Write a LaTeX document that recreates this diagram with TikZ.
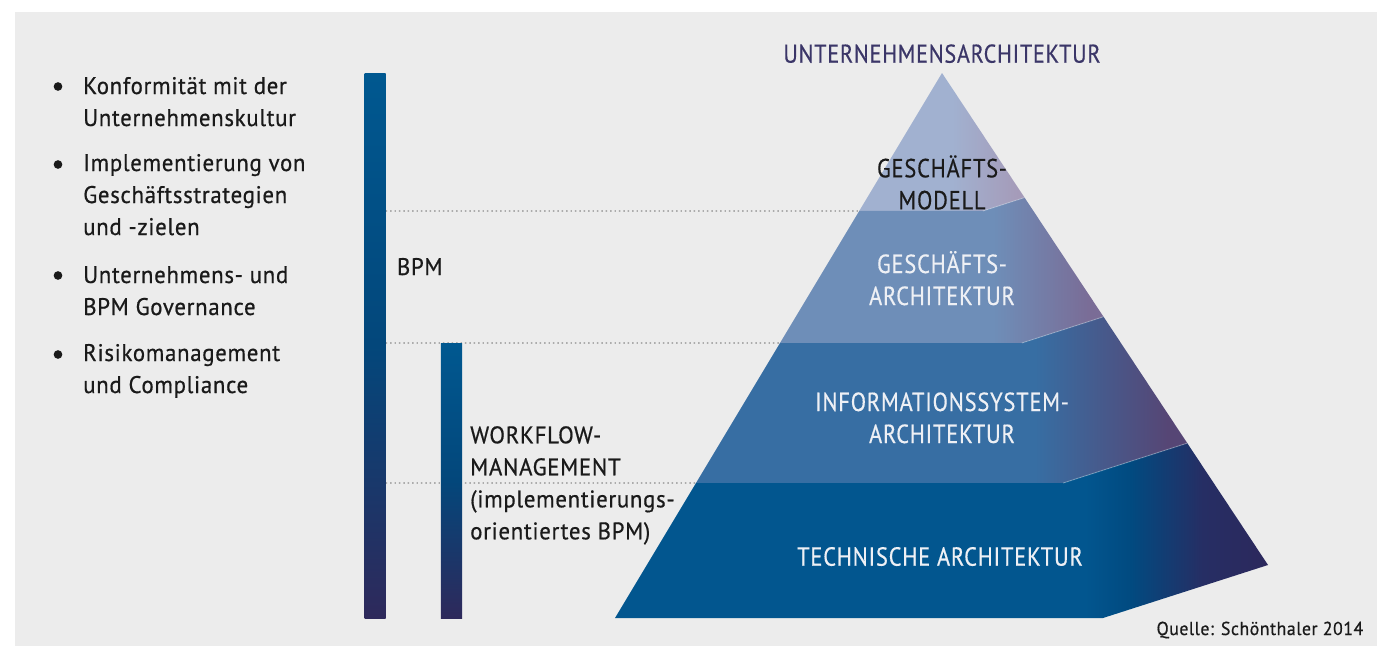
\documentclass[tikz,border=0pt]{standalone}
\usepackage{fontspec}
\setmainfont{PT Sans}[FakeStretch=0.95,LetterSpace=3,FakeBold=0.6]
\newfontfamily\capsfont{PT Sans}[FakeStretch=0.86,LetterSpace=3,FakeBold=0.4]
\usetikzlibrary{calc}

\definecolor{panel}{HTML}{ECECEC}
\definecolor{ink}{HTML}{1A1A1A}
\definecolor{titleink}{HTML}{3B3668}
\definecolor{paleink}{HTML}{EEF0F5}
\definecolor{guide}{HTML}{8A8A8A}
\definecolor{barTop}{HTML}{005890}
\definecolor{barMid}{HTML}{03477B}
\definecolor{barBot}{HTML}{2E295B}
\definecolor{lvlAf}{HTML}{A1B1D0}
\definecolor{lvlAr}{HTML}{A59BB9}
\definecolor{lvlBf}{HTML}{6E8EB8}
\definecolor{lvlBr}{HTML}{7A6C96}
\definecolor{lvlCf}{HTML}{376EA3}
\definecolor{lvlCr}{HTML}{564675}
\definecolor{lvlDf}{HTML}{02568F}
\definecolor{lvlDm}{HTML}{014A80}
\definecolor{lvlDn}{HTML}{262E64}
\definecolor{lvlDr}{HTML}{2C285C}

% horizontal shadings for the four levels: front colour, then a soft
% turn towards the shaded right flank (path box spans 25bp..75bp)
\pgfdeclarehorizontalshading{levelA}{100bp}{color(0bp)=(lvlAf); color(53bp)=(lvlAf); color(73bp)=(lvlAr); color(100bp)=(lvlAr)}
\pgfdeclarehorizontalshading{levelB}{100bp}{color(0bp)=(lvlBf); color(58bp)=(lvlBf); color(73bp)=(lvlBr); color(100bp)=(lvlBr)}
\pgfdeclarehorizontalshading{levelC}{100bp}{color(0bp)=(lvlCf); color(59.5bp)=(lvlCf); color(73bp)=(lvlCr); color(100bp)=(lvlCr)}
\pgfdeclarehorizontalshading{levelD}{100bp}{color(0bp)=(lvlDf); color(61bp)=(lvlDf); color(64.5bp)=(lvlDm); color(70bp)=(lvlDn); color(75bp)=(lvlDr); color(100bp)=(lvlDr)}

\begin{document}
\begin{tikzpicture}[x=0.75pt,y=-0.75pt,
  txt/.style={inner sep=0pt, text=ink, font=\fontsize{18}{24}\selectfont},
  lbl/.style={inner sep=0pt, align=center, anchor=base, font=\capsfont\fontsize{19.6}{24}\selectfont},
  dot/.style={circle, fill=ink, inner sep=0pt, minimum size=6.5pt},
  guideline/.style={draw=guide, line width=0.9pt, dash pattern=on 1.1pt off 2.2pt},
  seam/.style={draw=white, draw opacity=0.3, line width=0.7pt}]

% page and panel
\fill[white] (0,0) rectangle (1382,646);
\useasboundingbox (0,0) rectangle (1382,646);
\fill[panel] (15,12) rectangle (1377,646);

% pyramid frame: apex, left base, front-right base, right base
\coordinate (A) at (942,73);
\coordinate (L) at (615,618);
\coordinate (F) at (1103,618);
\coordinate (R) at (1268,565);
% level cuts (fractions of the height)
\foreach \k/\t in {1/0.2532,2/0.4954,3/0.7523}{
  \coordinate (l\k) at ($(A)!\t!(L)$);
  \coordinate (f\k) at ($(A)!\t!(F)$);
  \coordinate (r\k) at ($(A)!\t!(R)$);
}
\coordinate (l4) at (L); \coordinate (f4) at (F); \coordinate (r4) at (R);

% guide lines from the BPM bar to the pyramid
\draw[guideline] (385.7,211) -- (l1);
\draw[guideline] (385.7,343) -- (l2);
\draw[guideline] (385.7,483) -- (l3);

% bars
\shade[top color=barTop, bottom color=barBot, middle color=barMid]
  (364.5,73) rectangle (385.7,618);
\shade[top color=barTop, bottom color=barBot, middle color=barMid]
  (440.8,343) rectangle (462.2,618);

% the four levels, top to bottom
\shade[shading=levelA] (A) -- (r1) -- (f1) -- (l1) -- cycle;
\shade[shading=levelB] (l1) -- (f1) -- (r1) -- (r2) -- (f2) -- (l2) -- cycle;
\shade[shading=levelC] (l2) -- (f2) -- (r2) -- (r3) -- (f3) -- (l3) -- cycle;
\shade[shading=levelD] (l3) -- (f3) -- (r3) -- (r4) -- (f4) -- (l4) -- cycle;

% seams between the levels on the right flank
\draw[seam] (f1) -- (r1);
\draw[seam] (f2) -- (r2);
\draw[seam] (f3) -- (r3);

% pyramid labels (anchored at the baseline of their last line)
\node[lbl, text=titleink, font=\capsfont\fontsize{19.3}{24}\selectfont] (title) at (942,62.7) {UNTERNEHMENSARCHITEKTUR};
\node[lbl, text=ink] (gm) at (942,209.3) {GESCHÄFTS-\\MODELL};
\node[lbl, text=paleink] (ga) at (942,305) {GESCHÄFTS-\\ARCHITEKTUR};
\node[lbl, text=paleink] (ia) at (942,443) {INFORMATIONSSYSTEM-\\ARCHITEKTUR};
\node[lbl, text=paleink] (ta) at (940,565.7) {TECHNISCHE ARCHITEKTUR};

% bar labels
\node[txt, anchor=base west] (bpm) at (396.7,275) {BPM};
\node[txt, anchor=base west, align=left] (wfm) at (470,539.3)
  {WORKFLOW-\\MANAGEMENT\\(implementierungs-\\orientiertes BPM)};

% bullet list
\node[dot] (d1) at (58,86.5) {};
\node[txt, anchor=base west, align=left] (i1) at (83,126) {Konformität mit der\\Unternehmenskultur};
\node[dot] (d2) at (58,164.5) {};
\node[txt, anchor=base west, align=left] (i2) at (83,235) {Implementierung von\\Geschäftsstrategien\\und -zielen};
\node[dot] (d3) at (58,275.5) {};
\node[txt, anchor=base west, align=left] (i3) at (83,315) {Unternehmens- und\\BPM Governance};
\node[dot] (d4) at (58,354.5) {};
\node[txt, anchor=base west, align=left] (i4) at (83,393) {Risikomanagement\\und Compliance};

% source
\node[txt, anchor=base east, font=\fontsize{14}{18}\selectfont] (src) at (1363.5,635) {Quelle: Schönthaler 2014};
\end{tikzpicture}
\end{document}
